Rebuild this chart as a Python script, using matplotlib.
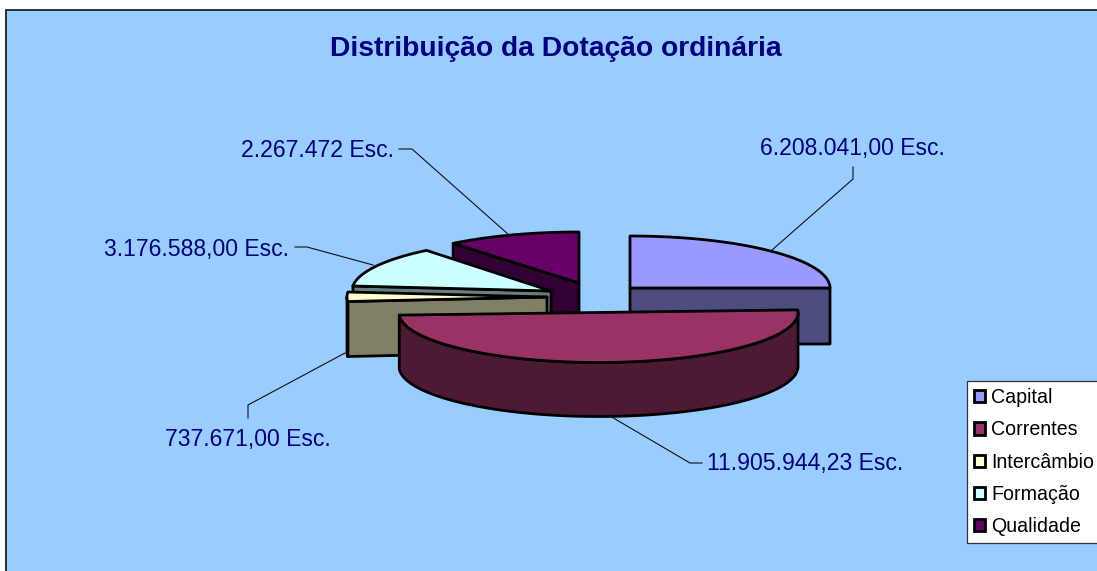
import numpy as np
import matplotlib
matplotlib.use("Agg")
import matplotlib.pyplot as plt
from matplotlib.patches import Polygon, Patch, Rectangle

# ---- data ----
categories = ["Capital", "Correntes", "Intercâmbio", "Formação", "Qualidade"]
values = [6208041.00, 11905944.23, 737671.00, 3176588.00, 2267472.00]
value_labels = ["6.208.041,00 Esc.", "11.905.944,23 Esc.", "737.671,00 Esc.",
                "3.176.588,00 Esc.", "2.267.472 Esc."]
title = "Distribuição da Dotação ordinária"

# ---- style / layout (pixel space) ----
W, H = 1097, 571
BG = "#99CCFF"
NAVY = "#000080"
top_colors = ["#9999FF", "#993366", "#FFFFCC", "#CCFFFF", "#660066"]
side_colors = ["#4D4D80", "#4D1A33", "#808066", "#668080", "#330033"]
# exploded centre, semi-axes, depth, perspective angle offsets
centres = [(630, 288), (598.5, 312.5), (547, 297), (551, 291), (579, 283)]
axes_ab = [(200, 52), (199.5, 50), (200, 52), (199, 52), (200, 51)]
depths = [56, 54, 55, 55, 55]
offsets = [(0, -2), (-5, -1.4), (-3.4, -3.8), (-3.8, -5.1), (-5.4, 0)]
draw_order = [4, 3, 2, 0, 1]
label_pos = [(760.5, 155), (707, 470), (165, 446), (104, 256), (241, 157)]
leaders = [
    [(772, 250), (853, 179), (853, 167)],
    [(610, 416), (690, 463), (702, 463)],
    [(345, 353), (248, 405), (248, 418)],
    [(373, 265), (307, 247), (295, 247)],
    [(509, 235), (412, 149), (399, 149)],
]

plt.rcParams["font.family"] = ["Liberation Sans", "DejaVu Sans"]
fig = plt.figure(figsize=(W / 100, H / 100), dpi=100, facecolor="white")
ax = fig.add_axes([0, 0, 1, 1])
ax.set_xlim(0, W)
ax.set_ylim(H, 0)
ax.axis("off")

# chart area
ax.add_patch(Rectangle((6, 10), W + 10, H + 10, facecolor=BG, edgecolor="#222222",
                       linewidth=1.3, zorder=0))

edges = np.cumsum([0] + values) / sum(values) * 360.0
OUT = dict(edgecolor="black", linewidth=2.0, joinstyle="round")


def arc(c, ab, t0, t1, n=120):
    t = np.radians(np.linspace(t0, t1, n))
    return np.column_stack([c[0] + ab[0] * np.sin(t), c[1] - ab[1] * np.cos(t)])


z = 2
for i in draw_order:
    c, ab, d = centres[i], axes_ab[i], depths[i]
    t0, t1 = edges[i] + offsets[i][0], edges[i + 1] + offsets[i][1]
    down = np.array([0, d])
    a = arc(c, ab, t0, t1)
    cpt = np.array(c, float)
    # cut faces
    if t1 <= 180:
        e = a[-1]
        ax.add_patch(Polygon([cpt, e, e + down, cpt + down], facecolor=side_colors[i], zorder=z, **OUT))
    if t0 >= 180:
        e = a[0]
        ax.add_patch(Polygon([cpt, e, e + down, cpt + down], facecolor=side_colors[i], zorder=z, **OUT))
    # outer wall on the near side
    lo, hi = max(t0, 90), min(t1, 270)
    if hi > lo:
        w = arc(c, ab, lo, hi)
        ax.add_patch(Polygon(np.vstack([w, (w + down)[::-1]]), facecolor=side_colors[i], zorder=z, **OUT))
    # top face
    ax.add_patch(Polygon(np.vstack([cpt, a]), facecolor=top_colors[i], zorder=z, **OUT))
    z += 1

# leader lines and labels
for pts, txt, (x, y) in zip(leaders, value_labels, label_pos):
    p = np.array(pts)
    ax.plot(p[:, 0], p[:, 1], color="#111111", lw=0.8, zorder=20)
    ax.text(x, y, txt, color=NAVY, fontsize=16.6, ha="left", va="baseline", zorder=21)

ax.text(556, 56, title, color=NAVY, fontsize=20.3, fontweight="bold",
        ha="center", va="baseline", zorder=21)

# legend
handles = [Patch(facecolor=col, edgecolor="black", linewidth=2.0) for col in top_colors]
leg = ax.legend(handles, categories, loc="upper left",
                bbox_to_anchor=(967, 381), bbox_transform=ax.transData,
                fontsize=14.1, frameon=True, fancybox=False, framealpha=1,
                facecolor="white", edgecolor="#333333",
                borderpad=0.36, labelspacing=0.68, handlelength=0.58, handleheight=0.58,
                handletextpad=0.3, borderaxespad=0)
leg.get_frame().set_linewidth(0.9)
leg.set_zorder(30)

fig.savefig("out.png", dpi=100, facecolor="white")
